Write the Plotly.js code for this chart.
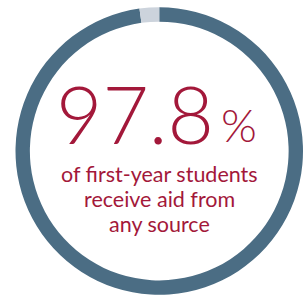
<!DOCTYPE html>
<html><head><meta charset="utf-8">
<script src="https://cdn.plot.ly/plotly-3.0.1.min.js"></script>
<style>html,body{margin:0;padding:0;background:#fff;}#chart{width:303px;height:297px;}</style>
</head><body><div id="chart"></div>
<script>
var labels = ["Receive aid", "No aid"];
var values = [97.8, 2.2];
var colors = ["#4b6d84", "#ccd3dc"];
var bigNumber = "97.8";
var bigUnit = "%";
var captionLines = ["of first-year students", "receive aid from", "any source"];

var W = 303, H = 297;
var red = "#a3183a";
function px(x){return x/W;}
function py(y){return 1 - y/H;}

var data = [{
  type: "pie",
  labels: labels,
  values: values,
  hole: 0.9,
  sort: false,
  direction: "clockwise",
  rotation: 0,
  marker: {colors: colors, line: {width: 0}},
  textinfo: "none",
  hoverinfo: "none",
  showlegend: false,
  domain: {x: [15.5/W, 1], y: [2/H, 290/H]}
}];

var annotations = [
  {text: bigNumber, x: px(135), y: py(113), font: {family: "Lato", size: 80, color: red, weight: 300}},
  {text: bigUnit, x: px(239), y: py(125), font: {family: "Lato", size: 46, color: red, weight: 300}}
];
var lineY = [174, 199, 224];
captionLines.forEach(function(t, i){
  annotations.push({text: t, x: px(160), y: py(lineY[i]), font: {family: "Lato", size: 21.5, color: red}});
});
annotations.forEach(function(a){
  a.xref = "paper"; a.yref = "paper"; a.showarrow = false;
  a.xanchor = "center"; a.yanchor = "middle";
});

var layout = {
  width: W, height: H,
  margin: {l: 0, r: 0, t: 0, b: 0},
  paper_bgcolor: "#ffffff",
  plot_bgcolor: "#ffffff",
  annotations: annotations
};
Plotly.newPlot("chart", data, layout, {displayModeBar: false, staticPlot: true});
</script>
</body></html>
